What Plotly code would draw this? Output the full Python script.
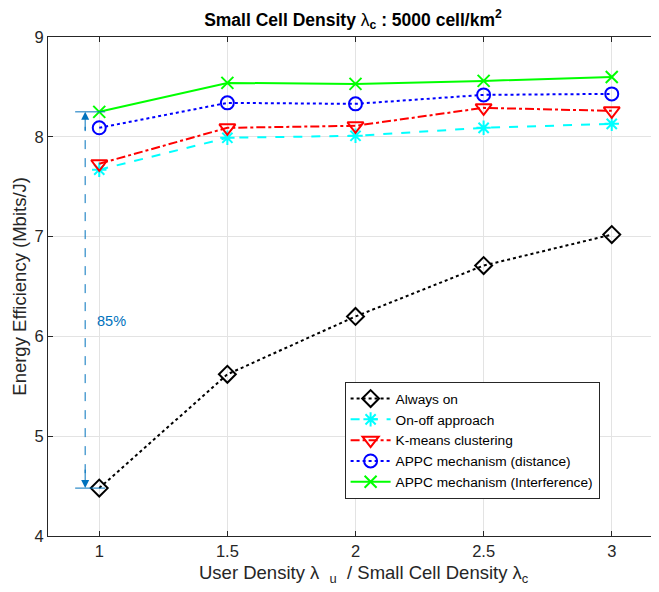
import plotly.graph_objects as go

x_vals = [1, 1.5, 2, 2.5, 3]
always_on = [4.48, 5.62, 6.20, 6.71, 7.02]
on_off = [7.67, 7.99, 8.01, 8.09, 8.13]
kmeans = [7.73, 8.09, 8.11, 8.29, 8.26]
appc_dist = [8.09, 8.34, 8.33, 8.42, 8.43]
appc_int = [8.25, 8.54, 8.53, 8.56, 8.60]

names = ["Always on", "On-off approach", "K-means clustering",
         "APPC mechanism (distance)", "APPC mechanism (Interference)"]
series = [always_on, on_off, kmeans, appc_dist, appc_int]
colors = ["#000000", "#00FFFF", "#FF0000", "#0000FF", "#00FF00"]
dashes = ["dot", "dash", "dashdot", "dot", "solid"]
symbols = ["diamond-open", "asterisk-open", "triangle-down-open", "circle-open", "x-thin-open"]
sizes = [13, 12, 14, 13, 12]

annot_x = 0.945
annot_top = 8.25
annot_bottom = 4.48
annot_text = "85%"

FONT = "Liberation Sans, Arial, Helvetica, sans-serif"

# The page body has an 8px margin, so figure coords = page coords - 8
L, T = 40.3, 29.3
PW, PH = 615.2, 498.4
W, H = 659, 592

fig = go.Figure()
for n, s, c, d, sym, sz in zip(names, series, colors, dashes, symbols, sizes):
    fig.add_trace(go.Scatter(
        x=x_vals, y=s, mode="lines+markers", name=n,
        line=dict(color=c, width=2, dash=d),
        marker=dict(symbol=sym, size=sz, color=c, line=dict(color=c, width=2)),
    ))

# dashed vertical annotation line
fig.add_shape(type="line", x0=annot_x, x1=annot_x, y0=annot_bottom + 0.15, y1=annot_top - 0.15,
              xref="x", yref="y", line=dict(color="#0072BD", width=1, dash="dash"))
# horizontal bars
for yv in [annot_top, annot_bottom]:
    fig.add_shape(type="line", x0=0.906, x1=1.023, y0=yv, y1=yv, xref="x", yref="y",
                  line=dict(color="#0072BD", width=1))
# arrowheads
fig.add_annotation(x=annot_x, y=annot_top, ax=annot_x, ay=annot_top - 0.2,
                   xref="x", yref="y", axref="x", ayref="y", text="", showarrow=True,
                   arrowhead=2, arrowsize=1.6, arrowwidth=1, arrowcolor="#0072BD")
fig.add_annotation(x=annot_x, y=annot_bottom, ax=annot_x, ay=annot_bottom + 0.2,
                   xref="x", yref="y", axref="x", ayref="y", text="", showarrow=True,
                   arrowhead=2, arrowsize=1.6, arrowwidth=1, arrowcolor="#0072BD")
fig.add_annotation(x=0.985, y=6.155, xref="x", yref="y", text=annot_text, showarrow=False,
                   xanchor="left", yanchor="middle",
                   font=dict(family=FONT, size=14.5, color="#0072BD"))

# axis titles as annotations for exact placement
fig.add_annotation(
    text="Energy Efficiency (Mbits/J)", textangle=-90, showarrow=False,
    xref="paper", yref="paper", x=(11.5 - L) / PW, y=0.5, xanchor="center", yanchor="middle",
    font=dict(family=FONT, size=18.5, color="#262626"),
)
fig.add_annotation(
    text="User Density λ  <sub>u</sub>  / Small Cell Density λ<sub>c</sub>", showarrow=False,
    xref="paper", yref="paper", x=(356 - L) / PW, y=-(566 - T - PH) / PH,
    xanchor="center", yanchor="middle",
    font=dict(family=FONT, size=18.5, color="#262626"),
)

fig.update_layout(
    width=W, height=H,
    margin=dict(l=L, r=W - L - PW, t=T, b=H - T - PH),
    paper_bgcolor="white", plot_bgcolor="white",
    font=dict(family=FONT, size=16, color="#262626"),
    title=dict(
        text="<b>Small Cell Density </b>λ<sub><b>c</b></sub><b> : 5000 cell/km<sup>2</sup></b>",
        x=345 / W, xanchor="center", xref="container",
        y=1 - 11.5 / H, yanchor="middle", yref="container",
        font=dict(family=FONT, size=17.5, color="#000000"),
    ),
    showlegend=True,
    legend=dict(
        x=(337 - L) / PW, y=1 - (374 - T) / PH, xanchor="left", yanchor="top",
        bgcolor="white", bordercolor="#262626", borderwidth=1,
        font=dict(family=FONT, size=13.7, color="#000000"),
        tracegroupgap=0, itemwidth=40,
    ),
)
fig.update_xaxes(
    range=[0.8, 3.2], tickvals=[1, 1.5, 2, 2.5, 3], ticktext=["1", "1.5", "2", "2.5", "3"],
    automargin=False,
    showgrid=True, gridcolor="#E3E3E3", gridwidth=1,
    showline=True, linecolor="#262626", linewidth=1, mirror="ticks",
    ticks="inside", ticklen=5, tickcolor="#262626", zeroline=False,
    tickfont=dict(size=16.5, color="#262626"),
)
fig.update_yaxes(
    range=[4, 9], tickvals=[4, 5, 6, 7, 8, 9],
    automargin=False,
    showgrid=True, gridcolor="#E3E3E3", gridwidth=1,
    showline=True, linecolor="#262626", linewidth=1, mirror="ticks",
    ticks="inside", ticklen=5, tickcolor="#262626", zeroline=False,
    tickfont=dict(size=16.5, color="#262626"),
)

fig.write_html("out.html")
